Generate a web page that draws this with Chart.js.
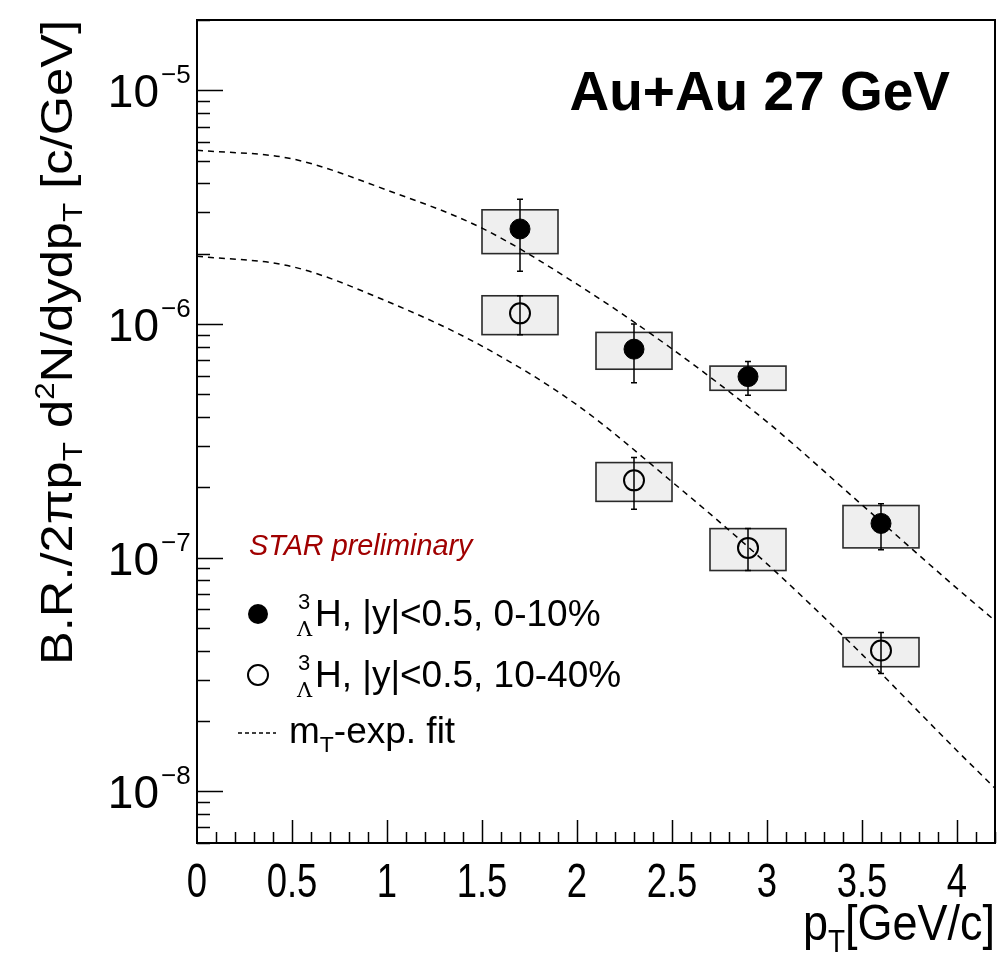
<!DOCTYPE html>
<html>
<head>
<meta charset="utf-8">
<title>Hypertriton pT spectra, Au+Au 27 GeV</title>
<script src="https://cdn.jsdelivr.net/npm/chart.js@4.4.0/dist/chart.umd.min.js"></script>
<style>
  html, body { margin: 0; padding: 0; background: #fff; }
  #wrap { width: 1000px; height: 956px; }
</style>
</head>
<body>
<div id="wrap"><canvas id="spectra" width="1000" height="956"></canvas></div>
<script>
// pT bins (GeV/c) and half-width of the systematic boxes
const ptCentral = [1.7, 2.3, 2.9, 3.6];
const ptBoxHalf = [0.2, 0.2, 0.2, 0.2];

// 0-10% centrality
const yield010   = [2.55e-6, 7.8e-7, 5.95e-7, 1.4e-7];
const stat010Hi  = [3.42e-6, 1.0e-6, 6.9e-7, 1.7e-7];
const stat010Lo  = [1.68e-6, 5.6e-7, 4.95e-7, 1.08e-7];
const sys010Hi   = [3.08e-6, 9.2e-7, 6.6e-7, 1.67e-7];
const sys010Lo   = [2.0e-6, 6.4e-7, 5.2e-7, 1.1e-7];

// 10-40% centrality
const yield1040  = [1.11e-6, 2.14e-7, 1.1e-7, 4.0e-8];
const stat1040Hi = [1.32e-6, 2.68e-7, 1.33e-7, 4.78e-8];
const stat1040Lo = [9.0e-7, 1.61e-7, 8.8e-8, 3.19e-8];
const sys1040Hi  = [1.32e-6, 2.55e-7, 1.33e-7, 4.54e-8];
const sys1040Lo  = [9.0e-7, 1.74e-7, 8.8e-8, 3.41e-8];

// mT-exponential fit curves
const fitPt      = [0, 0.5, 1.0, 1.5, 2.0, 2.5, 3.0, 3.5, 4.0, 4.2];
const fit010     = [5.54e-6, 5.09e-6, 3.74e-6, 2.57e-6, 1.48e-6, 7.82e-7, 3.81e-7, 1.68e-7, 7.38e-8, 5.37e-8];
const fit1040    = [1.95e-6, 1.76e-6, 1.25e-6, 8.04e-7, 4.5e-7, 2.11e-7, 9.4e-8, 3.85e-8, 1.49e-8, 1.03e-8];

// axis ticks
const xTickLabels = [0, 0.5, 1, 1.5, 2, 2.5, 3, 3.5, 4];
const yDecades    = [-8, -7, -6, -5];

const FONT = '"Liberation Sans", Arial, Helvetica, sans-serif';

const toXY = (xs, ys) => xs.map((x, i) => ({ x: x, y: ys[i] }));

// draw a list of text runs (normal / sup / sub) from a left baseline point
function drawRuns(ctx, runs, x, y, size, style) {
  let cx = x;
  for (const r of runs) {
    const small = r.sup || r.sub;
    const s = small ? size * 0.62 : size;
    ctx.font = (style || '') + ' ' + s + 'px ' + FONT;
    const dy = r.sup ? -size * 0.42 : (r.sub ? size * 0.24 : 0);
    ctx.fillText(r.t, cx, y + dy);
    cx += ctx.measureText(r.t).width;
  }
  return cx - x;
}
function runsWidth(ctx, runs, size, style) {
  let w = 0;
  for (const r of runs) {
    const s = (r.sup || r.sub) ? size * 0.62 : size;
    ctx.font = (style || '') + ' ' + s + 'px ' + FONT;
    w += ctx.measureText(r.t).width;
  }
  return w;
}

const rootStyle = {
  id: 'rootStyle',
  beforeDatasetsDraw(chart) {
    const { ctx, chartArea: a, scales: { x, y } } = chart;
    ctx.save();
    ctx.beginPath();
    ctx.rect(a.left, a.top, a.right - a.left, a.bottom - a.top);
    ctx.clip();

    // systematic boxes
    const boxes = (hi, lo) => {
      ptCentral.forEach((pt, i) => {
        const x0 = x.getPixelForValue(pt - ptBoxHalf[i]);
        const x1 = x.getPixelForValue(pt + ptBoxHalf[i]);
        const y0 = y.getPixelForValue(hi[i]);
        const y1 = y.getPixelForValue(lo[i]);
        ctx.fillStyle = '#efefef';
        ctx.fillRect(x0, y0, x1 - x0, y1 - y0);
        ctx.strokeStyle = '#2a2a2a';
        ctx.lineWidth = 1.6;
        ctx.strokeRect(x0, y0, x1 - x0, y1 - y0);
      });
    };
    boxes(sys010Hi, sys010Lo);
    boxes(sys1040Hi, sys1040Lo);

    // statistical error bars
    const bars = (hi, lo) => {
      ptCentral.forEach((pt, i) => {
        const px = x.getPixelForValue(pt);
        const y0 = y.getPixelForValue(hi[i]);
        const y1 = y.getPixelForValue(lo[i]);
        ctx.strokeStyle = '#000';
        ctx.lineWidth = 1.5;
        ctx.beginPath();
        ctx.moveTo(px, y0); ctx.lineTo(px, y1);
        ctx.moveTo(px - 3, y0); ctx.lineTo(px + 3, y0);
        ctx.moveTo(px - 3, y1); ctx.lineTo(px + 3, y1);
        ctx.stroke();
      });
    };
    bars(stat010Hi, stat010Lo);
    bars(stat1040Hi, stat1040Lo);
    ctx.restore();
  },

  afterDraw(chart) {
    const { ctx, chartArea: a, scales: { x, y } } = chart;
    ctx.save();
    ctx.fillStyle = '#000';
    ctx.strokeStyle = '#000';

    // frame
    ctx.lineWidth = 2;
    ctx.strokeRect(a.left, a.top, a.right - a.left, a.bottom - a.top);

    // x ticks (inside, every 0.1)
    ctx.lineWidth = 1.5;
    ctx.beginPath();
    for (let k = 1; k <= 42; k++) {
      const v = k / 10;
      const px = Math.round(x.getPixelForValue(v)) + 0.5;
      const len = (k % 5 === 0) ? 23 : 11;
      ctx.moveTo(px, a.bottom); ctx.lineTo(px, a.bottom - len);
    }
    // y ticks (inside, 1..9 per decade)
    for (let d = -9; d <= -5; d++) {
      for (let m = 1; m <= 9; m++) {
        const v = m * Math.pow(10, d);
        if (v < y.min || v > y.max) continue;
        const py = Math.round(y.getPixelForValue(v)) + 0.5;
        const len = (m === 1) ? 26 : 13;
        ctx.moveTo(a.left, py); ctx.lineTo(a.left + len, py);
      }
    }
    ctx.stroke();

    // x tick labels (narrow glyphs)
    ctx.textAlign = 'center';
    ctx.textBaseline = 'alphabetic';
    ctx.font = '48px ' + FONT;
    xTickLabels.forEach(v => {
      ctx.save();
      ctx.translate(x.getPixelForValue(v), 897);
      ctx.scale(0.76, 1);
      ctx.fillText(String(v), 0, 0);
      ctx.restore();
    });

    // y tick labels 10^n
    ctx.textAlign = 'left';
    yDecades.forEach(d => {
      const py = y.getPixelForValue(Math.pow(10, d));
      ctx.font = '46px ' + FONT;
      const w10 = ctx.measureText('10').width;
      ctx.fillText('10', 159 - w10, py + 17);
      ctx.font = '26px ' + FONT;
      ctx.fillText('\u2212' + String(-d), 161, py - 7);
    });

    // x axis title
    ctx.fillStyle = '#000';
    const xt = [{ t: 'p' }, { t: 'T', sub: true }, { t: '[GeV/c]' }];
    const xtw = runsWidth(ctx, xt, 50);
    ctx.save();
    ctx.translate(995, 940);
    ctx.scale(0.9, 1);
    drawRuns(ctx, xt, -xtw, 0, 50);
    ctx.restore();

    // y axis title, rotated, ending at top of the frame
    const yt = [
      { t: 'B.R./2\u03c0p' }, { t: 'T', sub: true }, { t: ' d' }, { t: '2', sup: true },
      { t: 'N/dydp' }, { t: 'T', sub: true }, { t: ' [c/GeV]' }
    ];
    const ytw = runsWidth(ctx, yt, 46);
    ctx.save();
    ctx.translate(72, 20);
    ctx.rotate(-Math.PI / 2);
    ctx.scale(645 / ytw, 0.95);
    drawRuns(ctx, yt, -ytw, 0, 46);
    ctx.restore();

    // collision system label
    ctx.textAlign = 'right';
    ctx.font = 'bold 55px ' + FONT;
    ctx.fillText('Au+Au 27 GeV', 950, 110);

    // preliminary tag
    ctx.textAlign = 'left';
    ctx.fillStyle = '#a00000';
    ctx.font = 'italic 28.8px ' + FONT;
    ctx.fillText('STAR preliminary', 249, 555);

    // legend
    ctx.fillStyle = '#000';
    const hyper = (yBase, tail) => {
      ctx.font = '22px ' + FONT;
      ctx.fillText('3', 298, yBase - 17);
      ctx.font = '21px "DejaVu Serif", serif';
      ctx.fillText('\u039b', 297, yBase + 10);
      ctx.font = '37px ' + FONT;
      ctx.fillText('H, |y|<0.5, ' + tail, 315, yBase);
    };
    ctx.beginPath();
    ctx.arc(258, 614, 10, 0, Math.PI * 2);
    ctx.fill();
    hyper(626, '0-10%');
    ctx.beginPath();
    ctx.arc(258, 675, 10, 0, Math.PI * 2);
    ctx.lineWidth = 2;
    ctx.stroke();
    hyper(687, '10-40%');

    ctx.setLineDash([4, 3]);
    ctx.lineWidth = 1.5;
    ctx.beginPath();
    ctx.moveTo(238, 733); ctx.lineTo(276, 733);
    ctx.stroke();
    ctx.setLineDash([]);
    drawRuns(ctx, [{ t: 'm' }, { t: 'T', sub: true }, { t: '-exp. fit' }], 289, 743, 37);

    ctx.restore();
  }
};

new Chart(document.getElementById('spectra'), {
  type: 'scatter',
  data: {
    datasets: [
      {
        label: 'fit 0-10%',
        type: 'line',
        data: toXY(fitPt, fit010),
        borderColor: '#000',
        borderWidth: 1.5,
        borderDash: [6, 5],
        pointRadius: 0,
        cubicInterpolationMode: 'monotone',
        fill: false,
        order: 3
      },
      {
        label: 'fit 10-40%',
        type: 'line',
        data: toXY(fitPt, fit1040),
        borderColor: '#000',
        borderWidth: 1.5,
        borderDash: [6, 5],
        pointRadius: 0,
        cubicInterpolationMode: 'monotone',
        fill: false,
        order: 3
      },
      {
        label: '0-10%',
        data: toXY(ptCentral, yield010),
        pointStyle: 'circle',
        pointRadius: 10,
        pointBackgroundColor: '#000',
        pointBorderColor: '#000',
        pointBorderWidth: 1,
        order: 1
      },
      {
        label: '10-40%',
        data: toXY(ptCentral, yield1040),
        pointStyle: 'circle',
        pointRadius: 10,
        pointBackgroundColor: 'rgba(0,0,0,0)',
        pointBorderColor: '#000',
        pointBorderWidth: 2,
        order: 1
      }
    ]
  },
  options: {
    responsive: false,
    animation: false,
    events: [],
    layout: { autoPadding: false, padding: { left: 197, right: 5, top: 20, bottom: 113 } },
    scales: {
      x: { type: 'linear', min: 0, max: 4.2, display: false },
      y: { type: 'logarithmic', min: 6e-9, max: 2e-5, display: false }
    },
    plugins: { legend: { display: false }, tooltip: { enabled: false } }
  },
  plugins: [rootStyle]
});
</script>
</body>
</html>
